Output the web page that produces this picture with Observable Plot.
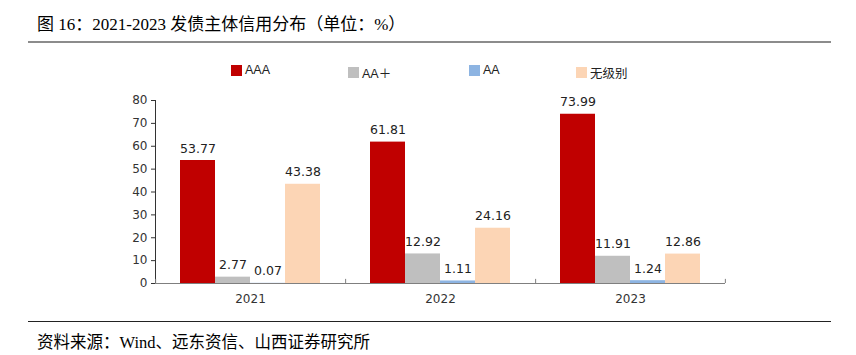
<!DOCTYPE html>
<html><head><meta charset="utf-8">
<script src="https://cdn.jsdelivr.net/npm/d3@7"></script>
<script src="https://cdn.jsdelivr.net/npm/@observablehq/plot@0.6"></script>
<style>
body{margin:0;background:#fff;width:856px;height:355px;position:relative;overflow:hidden;}
#title{position:absolute;left:37px;top:10px;font-size:17px;font-family:"Liberation Serif","Noto Sans CJK SC",serif;color:#000;white-space:nowrap;}
#tline{position:absolute;left:28px;top:41px;width:803px;height:2px;background:#8c8c8c;}
#legend{position:absolute;left:0;top:63px;width:856px;height:16px;}
.lg{position:absolute;top:0;display:flex;align-items:center;font-size:12.5px;font-family:"Liberation Sans","Noto Sans CJK SC",sans-serif;color:#222;white-space:nowrap;}
.sw{width:11px;height:11px;margin-right:3px;}
#chart{position:absolute;left:0;top:85px;}
#bline{position:absolute;left:28px;top:321px;width:803px;height:1px;background:#222;}
#source{position:absolute;left:37px;top:329px;font-size:16.5px;font-family:"Liberation Serif","Noto Sans CJK SC",serif;color:#000;white-space:nowrap;}
</style>
</head><body>
<div id="title">图 16：2021-2023 发债主体信用分布（单位：%）</div>
<div id="tline"></div>
<div id="legend"></div>
<div id="chart"></div>
<div id="bline"></div>
<div id="source">资料来源：Wind、远东资信、山西证券研究所</div>
<script>
const years = ["2021", "2022", "2023"];
const series = ["AAA", "AA＋", "AA", "无级别"];
const valuesAAA = [53.77, 61.81, 73.99];
const valuesAAplus = [2.77, 12.92, 11.91];
const valuesAA = [0.07, 1.11, 1.24];
const valuesUnrated = [43.38, 24.16, 12.86];
const colors = ["#C00000", "#BFBFBF", "#8DB4E2", "#FCD5B5"];
const yTicks = [0, 10, 20, 30, 40, 50, 60, 70, 80];
const legendLeft = [231, 348, 469, 576];

const seriesValues = [valuesAAA, valuesAAplus, valuesAA, valuesUnrated];
const data = [];
years.forEach((yr, i) => series.forEach((s, j) => data.push({year: yr, series: s, value: seriesValues[j][i]})));

// legend
const lg = document.getElementById("legend");
series.forEach((s, j) => {
  const d = document.createElement("div");
  d.className = "lg";
  d.style.left = legendLeft[j] + "px";
  d.innerHTML = `<span class="sw" style="background:${colors[j]}"></span><span>${s}</span>`;
  lg.appendChild(d);
});

const W = 856, H = 230, ML = 154, MR = 130, MT = 15, MB = 32;
const PO = 0.7;
const fw = (W - ML - MR) / years.length;
const step = fw / (series.length + 2 * PO);
const edge = step * PO + step / 2;

const leftTicks = years.map(y => ({year: y, series: series[0]}));
const rightTicks = [{year: years[years.length - 1], series: series[series.length - 1]}];

const chart = Plot.plot({
  width: W, height: H,
  marginLeft: ML, marginRight: MR, marginTop: MT, marginBottom: MB,
  style: {fontFamily: "DejaVu Sans, sans-serif", fontSize: "12px", color: "#333", background: "#fff"},
  fx: {domain: years, padding: 0, label: null, axis: "bottom", tickSize: 0, tickPadding: 11},
  x: {domain: series, paddingInner: 0, paddingOuter: PO, align: 0.5, axis: null},
  y: {domain: [0, 80], ticks: yTicks, tickSize: 4, line: true, label: null, tickFormat: d => d, tickPadding: 4},
  color: {domain: series, range: colors},
  marks: [
    Plot.barY(data, {fx: "year", x: "series", y: "value", fill: "series"}),
    Plot.ruleY([0], {stroke: "#7f7f7f"}),
    Plot.ruleX(leftTicks, {fx: "year", x: "series", y1: 0, y2: 1.8, dx: -edge, stroke: "#7f7f7f"}),
    Plot.ruleX(rightTicks, {fx: "year", x: "series", y1: 0, y2: 1.8, dx: edge, stroke: "#7f7f7f"}),
    Plot.text(data, {fx: "year", x: "series", y: "value", text: d => d.value.toFixed(2), lineAnchor: "bottom", dy: -8, fontSize: 12.5, fill: "#222"})
  ]
});
document.getElementById("chart").appendChild(chart);
</script>
</body></html>
